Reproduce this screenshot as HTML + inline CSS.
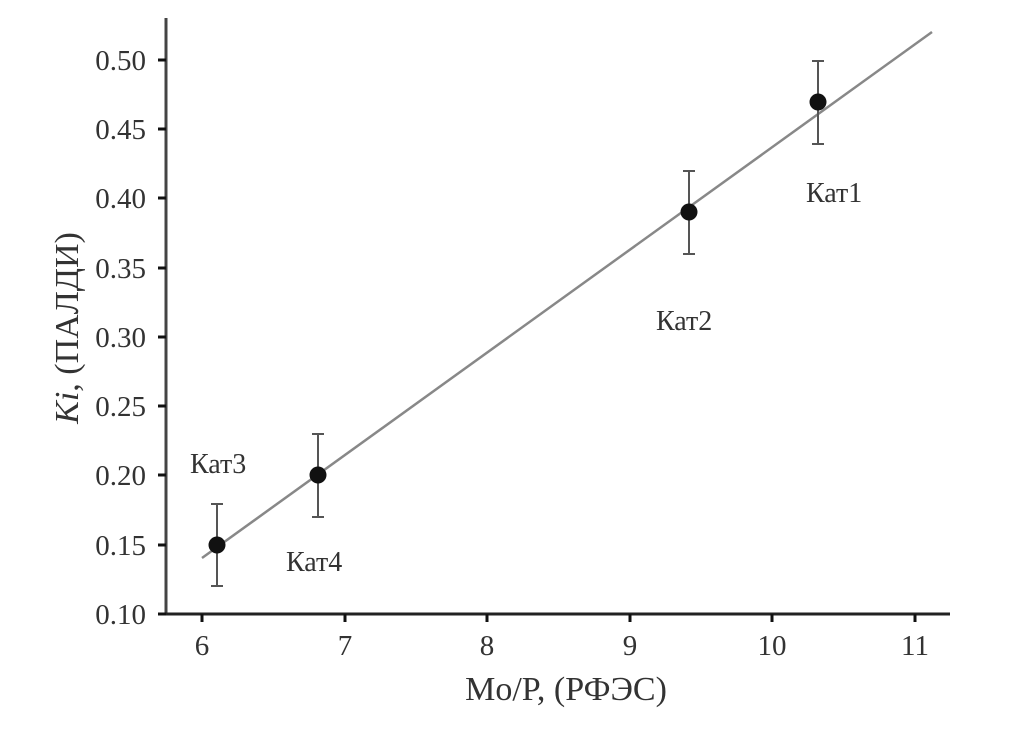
<!DOCTYPE html>
<html><head><meta charset="utf-8"><style>body{margin:0;background:#fff}</style></head><body>
<svg width="1010" height="732" xmlns="http://www.w3.org/2000/svg" font-family="Liberation Serif, serif" fill="#333">
<line x1="166" y1="18" x2="166" y2="615" stroke="#444" stroke-width="3"/>
<line x1="165" y1="614" x2="950" y2="614" stroke="#222" stroke-width="3"/>
<g stroke="#111" stroke-width="3">
<line x1="158" y1="614" x2="166" y2="614"/><line x1="158" y1="545" x2="166" y2="545"/><line x1="158" y1="475" x2="166" y2="475"/><line x1="158" y1="406" x2="166" y2="406"/><line x1="158" y1="337" x2="166" y2="337"/><line x1="158" y1="268" x2="166" y2="268"/><line x1="158" y1="198" x2="166" y2="198"/><line x1="158" y1="129" x2="166" y2="129"/><line x1="158" y1="60" x2="166" y2="60"/>
<line x1="202" y1="614" x2="202" y2="622"/><line x1="345" y1="614" x2="345" y2="622"/><line x1="487" y1="614" x2="487" y2="622"/><line x1="630" y1="614" x2="630" y2="622"/><line x1="772" y1="614" x2="772" y2="622"/><line x1="915" y1="614" x2="915" y2="622"/>
</g>
<g font-size="29" text-anchor="end">
<text x="146" y="624">0.10</text><text x="146" y="555">0.15</text><text x="146" y="485">0.20</text><text x="146" y="416">0.25</text><text x="146" y="347">0.30</text><text x="146" y="278">0.35</text><text x="146" y="208">0.40</text><text x="146" y="139">0.45</text><text x="146" y="70">0.50</text>
</g>
<g font-size="29" text-anchor="middle">
<text x="202" y="655">6</text><text x="345" y="655">7</text><text x="487" y="655">8</text><text x="630" y="655">9</text><text x="772" y="655">10</text><text x="915" y="655">11</text>
<text x="566" y="700" font-size="34">Mo/P, (РФЭС)</text>
<text transform="translate(78,328) rotate(-90)" font-size="34"><tspan font-style="italic">Ki</tspan>, (ПАЛДИ)</text>
</g>
<line x1="202" y1="558" x2="932" y2="32" stroke="#888" stroke-width="2.5"/>
<g stroke="#555" stroke-width="2">
<line x1="818" y1="61" x2="818" y2="144"/><line x1="812" y1="61" x2="824" y2="61"/><line x1="812" y1="144" x2="824" y2="144"/>
<line x1="689" y1="171" x2="689" y2="254"/><line x1="683" y1="171" x2="695" y2="171"/><line x1="683" y1="254" x2="695" y2="254"/>
<line x1="318" y1="434" x2="318" y2="517"/><line x1="312" y1="434" x2="324" y2="434"/><line x1="312" y1="517" x2="324" y2="517"/>
<line x1="217" y1="504" x2="217" y2="586"/><line x1="211" y1="504" x2="223" y2="504"/><line x1="211" y1="586" x2="223" y2="586"/>
</g>
<g fill="#111"><circle cx="818" cy="102" r="8.5"/><circle cx="689" cy="212" r="8.5"/><circle cx="318" cy="475" r="8.5"/><circle cx="217" cy="545" r="8.5"/></g>
<g font-size="28">
<text x="806" y="202">Кат1</text><text x="656" y="330">Кат2</text><text x="190" y="473">Кат3</text><text x="286" y="571">Кат4</text>
</g>
</svg>
</body></html>
